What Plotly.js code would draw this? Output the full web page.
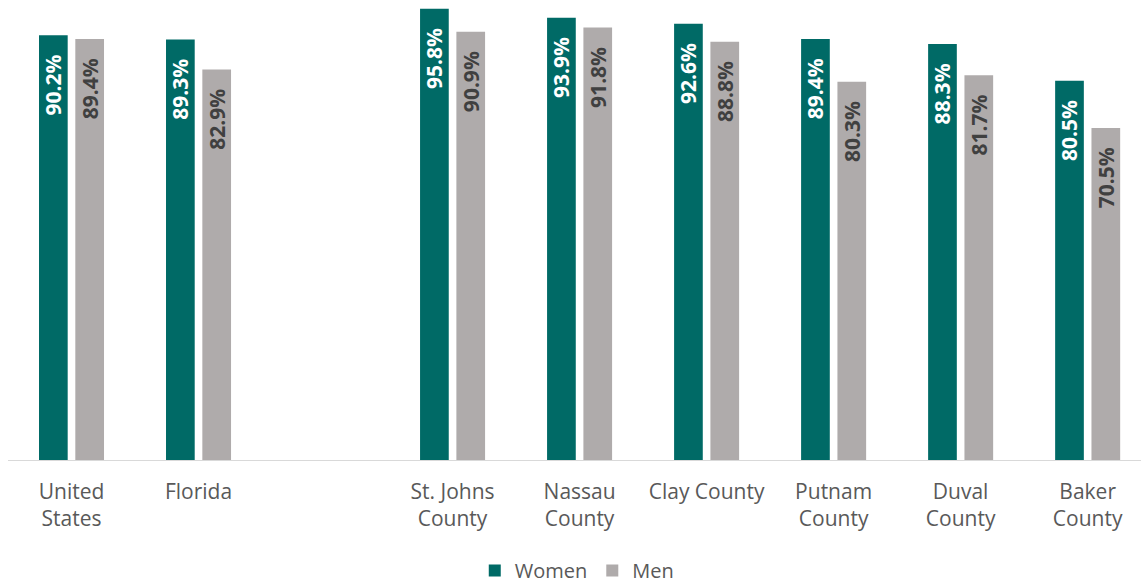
<!DOCTYPE html>
<html>
<head>
<meta charset="utf-8">
<script src="https://cdn.plot.ly/plotly-3.0.1.min.js"></script>
<style>
html,body{margin:0;padding:0;background:#fff;}
#chart{width:1141px;height:584px;}
</style>
</head>
<body>
<div id="chart"></div>
<script>
var categories = ["United<br>States", "Florida", "\u00a0", "St. Johns<br>County", "Nassau<br>County", "Clay County", "Putnam<br>County", "Duval<br>County", "Baker<br>County"];
var women = [90.2, 89.3, null, 95.8, 93.9, 92.6, 89.4, 88.3, 80.5];
var men = [89.4, 82.9, null, 90.9, 91.8, 88.8, 80.3, 81.7, 70.5];
var seriesNames = ["Women", "Men"];

var FONT = "'Open Sans', Lato, sans-serif";
var PAD = "\u00a0\u00a0\u00a0";

var traces = [
  {
    type: "bar", name: seriesNames[0], x: categories, y: women,
    marker: {color: "#006A66"},
    texttemplate: "%{y:.1f}%" + PAD, textposition: "inside", insidetextanchor: "end",
    textangle: -90, constraintext: "none",
    textfont: {family: FONT, size: 21, color: "#ffffff", weight: "bold"},
    hoverinfo: "none"
  },
  {
    type: "bar", name: seriesNames[1], x: categories, y: men,
    marker: {color: "#AFABAB"},
    texttemplate: "%{y:.1f}%" + PAD, textposition: "inside", insidetextanchor: "end",
    textangle: -90, constraintext: "none",
    textfont: {family: FONT, size: 21, color: "#404040", weight: "bold"},
    hoverinfo: "none"
  }
];

var layout = {
  width: 1141, height: 584,
  margin: {l: 8, r: 0, t: 0, b: 124, pad: 0, autoexpand: false},
  paper_bgcolor: "#ffffff", plot_bgcolor: "#ffffff",
  barmode: "group", bargap: 0.428, bargroupgap: 0.21,
  font: {family: FONT, color: "#595959", size: 21},
  xaxis: {
    type: "category", categoryorder: "array", categoryarray: categories,
    range: [-0.5, 8.42], automargin: false,
    showline: true, linecolor: "#D9D9D9", linewidth: 1.3,
    ticks: "", showgrid: false, zeroline: false,
    tickfont: {family: FONT, size: 21, color: "#595959"},
    ticklabelstandoff: 12
  },
  yaxis: {
    range: [0, 97.66], showticklabels: false, showgrid: false, automargin: false,
    zeroline: false, showline: false, ticks: ""
  },
  showlegend: true,
  legend: {
    orientation: "h", x: 0.502, xanchor: "center", y: -0.24, yanchor: "middle",
    font: {family: FONT, size: 20, color: "#595959"},
    itemclick: false, itemdoubleclick: false
  }
};

Plotly.newPlot("chart", traces, layout, {staticPlot: true, displayModeBar: false});
</script>
</body>
</html>
